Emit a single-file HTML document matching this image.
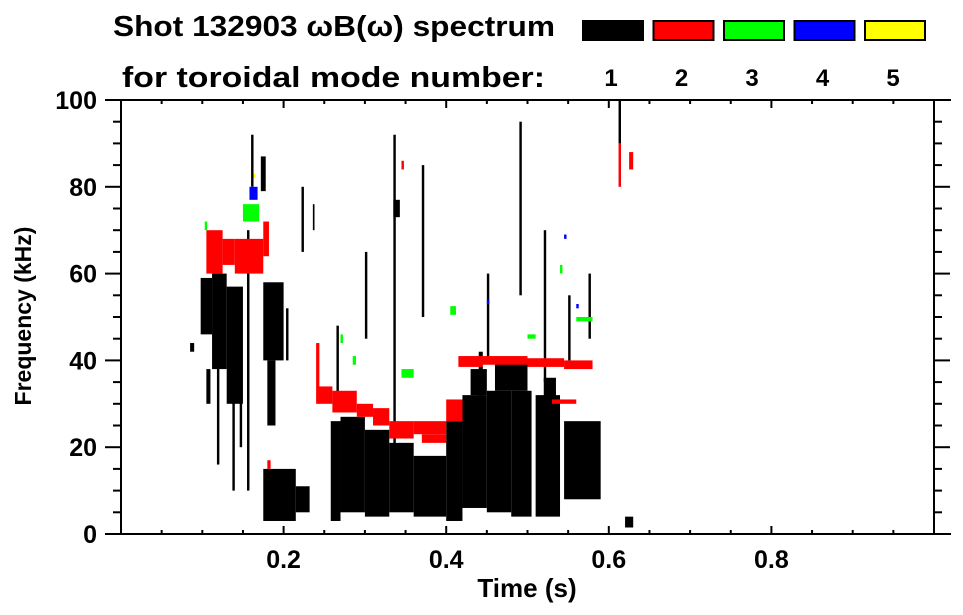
<!DOCTYPE html>
<html><head><meta charset="utf-8">
<style>
html,body{margin:0;padding:0;background:#fff;}
svg{display:block;font-family:"Liberation Sans",Arial,sans-serif;font-weight:bold;}
</style></head>
<body>
<svg id="chart" width="963" height="615" viewBox="0 0 963 615" xmlns="http://www.w3.org/2000/svg">
  <rect width="963" height="615" fill="#fff"/>
  <text x="113" y="36" font-size="29" textLength="442" lengthAdjust="spacingAndGlyphs">Shot 132903 ωB(ω) spectrum</text>
  <text x="122" y="87" font-size="29" textLength="423" lengthAdjust="spacingAndGlyphs">for toroidal mode number:</text>
  <g id="legend"></g>
  <g id="marks"></g>
  <g id="axes"></g>
  <text x="527" y="597" font-size="26" text-anchor="middle">Time (s)</text>
  <text transform="translate(31,316) rotate(-90)" font-size="23" text-anchor="middle">Frequency (kHz)</text>
</svg>
<script>
// ---- data ----
const modeNumbers = [1, 2, 3, 4, 5];
const modeColors = ["#000000", "#ff0000", "#00ff00", "#0000ff", "#ffff00"];
const xTickValues = [0.2, 0.4, 0.6, 0.8];
const xTickLabels = ["0.2", "0.4", "0.6", "0.8"];
const yTickValues = [0, 20, 40, 60, 80, 100];
const yTickLabels = ["0", "20", "40", "60", "80", "100"];
// mode 1 (black) regions: time start, time end, freq low, freq high
const m1T0 = [0.085,0.098,0.112,0.13,0.175,0.18,0.175,0.215,0.258,0.27,0.30,0.33,0.36,0.40,0.42,0.45,0.48,0.51,0.545,0.43,0.46,0.335,0.172,0.62,0.105,0.52,0.44,0.118,0.137,0.146,0.155,0.203,0.236,0.265,0.30,0.335,0.37,0.45,0.49,0.52,0.55,0.575,0.612,0.16,0.222];
const m1T1 = [0.09,0.112,0.13,0.15,0.20,0.19,0.215,0.232,0.27,0.30,0.33,0.36,0.40,0.42,0.45,0.48,0.505,0.54,0.59,0.45,0.50,0.343,0.178,0.63,0.11,0.535,0.445,0.121,0.14,0.149,0.158,0.206,0.238,0.268,0.303,0.338,0.373,0.453,0.493,0.523,0.553,0.578,0.615,0.163,0.225];
const m1F0 = [42,46,38,30,40,25,3,5,3,5,4,5,4,3,6,5,4,4,8,32,33,73,79,1.5,30,28,30,16,10,20,10,40,70,30,45,15,50,40,55,35,40,45,90,80,65];
const m1F1 = [44,59,60,57,58,40,15,11,26,27,24,21,18,26,32,33,33,32,26,38,40,77,87,4,38,36,42,40,42,50,70,52,76,48,65,92,85,60,95,70,55,60,100,92,80];
// mode 2 (red)
const m2T0 = [0.105,0.125,0.14,0.175,0.24,0.243,0.26,0.29,0.31,0.33,0.36,0.37,0.40,0.415,0.445,0.50,0.545,0.53,0.612,0.625,0.18,0.345];
const m2T1 = [0.125,0.14,0.175,0.182,0.244,0.26,0.29,0.31,0.33,0.36,0.40,0.40,0.42,0.445,0.50,0.545,0.58,0.56,0.615,0.63,0.184,0.348];
const m2F0 = [60,62,60,64,30,30,28,27,25,22,23,21,26,38.5,39,38.5,38,30,80,84,15,84];
const m2F1 = [70,68,68,72,44,34,33,30,29,26,26,23,31,41,41,40.5,40,31,90,88,17,86];
// mode 3 (green)
const m3T0 = [0.15,0.103,0.405,0.345,0.27,0.50,0.56,0.285,0.54];
const m3T1 = [0.17,0.106,0.412,0.36,0.273,0.51,0.58,0.289,0.543];
const m3F0 = [72,70,50.5,36,44,45,49,39,60];
const m3F1 = [76,72,52.5,38,46,46,50,41,62];
// mode 4 (blue)
const m4T0 = [0.158,0.45,0.56,0.545];
const m4T1 = [0.168,0.453,0.563,0.548];
const m4F0 = [77,53,52,68];
const m4F1 = [80,54,53,69];
// mode 5 (yellow)
const m5T0 = [0.163];
const m5T1 = [0.165];
const m5F0 = [82];
const m5F1 = [83];

// ---- axis functions ----
const X0 = 121, X1 = 934, Y0 = 534, Y1 = 100;
function xs(t){ return X0 + (t - 0) / (1 - 0) * (X1 - X0); }
function ys(f){ return Y0 - (f - 0) / (100 - 0) * (Y0 - Y1); }
const NS = "http://www.w3.org/2000/svg";
function mk(tag, attrs, parent){
  const e = document.createElementNS(NS, tag);
  for (const k in attrs) e.setAttribute(k, attrs[k]);
  parent.appendChild(e);
  return e;
}
const marks = document.getElementById('marks');
function drawMode(T0, T1, F0, F1, color, name){
  for (let i = 0; i < T0.length; i++){
    const x = xs(T0[i]), w = Math.max(1.5, xs(T1[i]) - x);
    const y = ys(F1[i]), h = Math.max(1.5, ys(F0[i]) - y);
    const r = mk('rect', {x:x, y:y, width:w, height:h, fill:color}, marks);
    
    
  }
}
drawMode(m1T0, m1T1, m1F0, m1F1, modeColors[0], 'mode-1-region');
drawMode(m2T0, m2T1, m2F0, m2F1, modeColors[1], 'mode-2-region');
drawMode(m3T0, m3T1, m3F0, m3F1, modeColors[2], 'mode-3-region');
drawMode(m4T0, m4T1, m4F0, m4F1, modeColors[3], 'mode-4-region');
drawMode(m5T0, m5T1, m5F0, m5F1, modeColors[4], 'mode-5-region');

// ---- legend ----
const legend = document.getElementById('legend');
for (let i = 0; i < modeNumbers.length; i++){
  const bx = 582 + i * 70.5;
  const sw = mk('rect', {x:bx+1, y:21, width:60, height:19, fill:modeColors[i], stroke:'#000', 'stroke-width':2}, legend);
  
  
  const tx = mk('text', {x:bx+29, y:86, 'font-size':24, 'text-anchor':'middle'}, legend);
  tx.textContent = String(modeNumbers[i]);
  
  
}

// ---- axes ----
const axes = document.getElementById('axes');
const st = {stroke:'#000', 'stroke-width':2};
mk('line', Object.assign({x1:105, y1:Y0, x2:951, y2:Y0}, st), axes);
mk('line', Object.assign({x1:105, y1:Y1, x2:951, y2:Y1}, st), axes);
mk('line', Object.assign({x1:X0, y1:Y1, x2:X0, y2:Y0}, st), axes);
mk('line', Object.assign({x1:X1, y1:Y1, x2:X1, y2:Y0}, st), axes);
for (let v = 0.05; v < 1; v += 0.05){
  const major = Math.abs(v/0.2 - Math.round(v/0.2)) < 1e-6;
  const len = major ? 8 : 4;
  mk('line', Object.assign({x1:xs(v), y1:Y0, x2:xs(v), y2:Y0-len}, st), axes);
  mk('line', Object.assign({x1:xs(v), y1:Y1, x2:xs(v), y2:Y1+len}, st), axes);
}
for (let v = 5; v < 100; v += 5){
  const major = v % 20 === 0;
  const len = major ? 16 : 8;
  mk('line', Object.assign({x1:X0-len, y1:ys(v), x2:X0, y2:ys(v)}, st), axes);
  mk('line', Object.assign({x1:X1, y1:ys(v), x2:X1+len, y2:ys(v)}, st), axes);
}
for (let i = 0; i < xTickValues.length; i++){
  const t = mk('text', {x:xs(xTickValues[i]), y:568, 'font-size':25, 'text-anchor':'middle'}, axes);
  t.textContent = xTickLabels[i];
  
  
}
for (let i = 0; i < yTickValues.length; i++){
  const t = mk('text', {x:97, y:ys(yTickValues[i]) + 9, 'font-size':25, 'text-anchor':'end'}, axes);
  t.textContent = yTickLabels[i];
  
  
}
</script>
</body></html>
